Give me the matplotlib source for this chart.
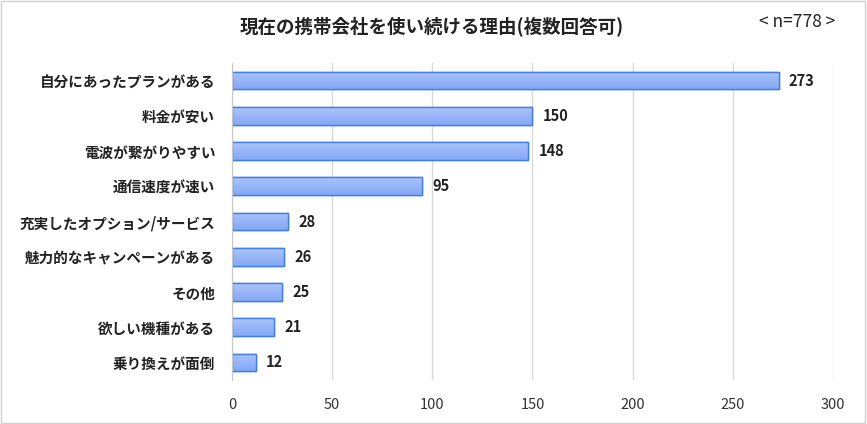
import numpy as np
import matplotlib
matplotlib.use('Agg')
from matplotlib import pyplot as plt
from matplotlib.patches import Rectangle
from matplotlib.colors import LinearSegmentedColormap

plt.rcParams['font.family'] = ['Noto Sans CJK JP', 'DejaVu Sans']

labels = ['自分にあったプランがある', '料金が安い', '電波が繋がりやすい', '通信速度が速い',
          '充実したオプション/サービス', '魅力的なキャンペーンがある', 'その他',
          '欲しい機種がある', '乗り換えが面倒']
values = [273, 150, 148, 95, 28, 26, 25, 21, 12]
title = '現在の携帯会社を使い続ける理由(複数回答可)'
note = '< n=778 >'

fig = plt.figure(figsize=(8.67, 4.24), dpi=100)
ax = fig.add_axes([232/867, 1-380/424, (833-232)/867, (380-63)/424])

y = np.arange(len(labels))
bars = ax.barh(y, values, height=0.5, color='#9ab6f6', edgecolor='#3f7fe6', linewidth=1.0, zorder=3)

# vertical gradient inside each bar
cmap = LinearSegmentedColormap.from_list('g', ['#aac4fb', '#86a7f4'])
grad = np.linspace(0, 1, 64).reshape(-1, 1)
for b in bars:
    x0, y0 = b.get_x(), b.get_y()
    w, h = b.get_width(), b.get_height()
    im = ax.imshow(grad, cmap=cmap, aspect='auto', extent=(x0, x0 + w, y0 + h, y0),
                   origin='upper', zorder=3.5, interpolation='bilinear')
    im.set_clip_path(b)
    ax.add_patch(Rectangle((x0, y0), w, h, fill=False, edgecolor='#3f7fe6', linewidth=1.0, zorder=4))

for yi, v in zip(y, values):
    ax.text(v + 5, yi, str(v), va='center', ha='left', fontsize=10.5, fontweight='bold', color='#222222')

ax.set_xlim(0, 300)
ax.set_ylim(len(labels) - 0.5, -0.5)
ax.set_xticks(np.arange(0, 301, 50))
ax.set_yticks(y)
ax.set_yticklabels(labels, fontsize=10.5, fontweight='bold', color='#222222')
ax.tick_params(axis='y', length=0, pad=12)
ax.tick_params(axis='x', length=0, pad=13, labelsize=10.5, labelcolor='#333333')
ax.grid(axis='x', color='#d9d9d9', linewidth=1.0, zorder=0)
for s in ['top', 'right', 'bottom']:
    ax.spines[s].set_visible(False)
ax.spines['left'].set_color('#c8c8c8')
ax.spines['left'].set_zorder(5)

fig.text(432/867, 1-27/424, title, ha='center', va='center', fontsize=13.3, fontweight='bold', color='#222222')
fig.text(797/867, 1-22/424, note, ha='center', va='center', fontsize=12.5, color='#222222')

fig.patches.append(Rectangle((0.001, 0.002), 0.997, 0.995, transform=fig.transFigure,
                             fill=False, edgecolor='#d0d0d0', linewidth=1.0))

fig.savefig('out.png', dpi=100)
